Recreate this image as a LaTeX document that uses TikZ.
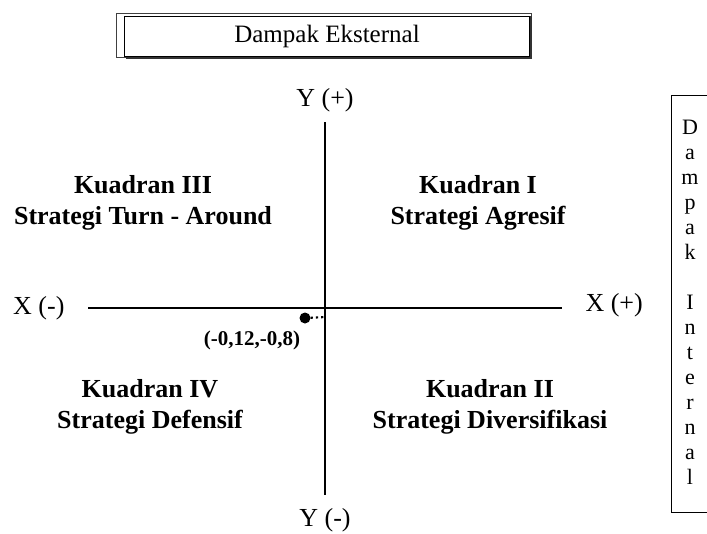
\documentclass[tikz,border=0pt]{standalone}
\usepackage{fontspec}
\setmainfont{Liberation Serif}
\usepackage{tikz}
\usetikzlibrary{positioning,calc}

\begin{document}
\begin{tikzpicture}[
  x=1pt, y=-1pt,
  font=\fontsize{20}{24}\selectfont,
  kuadran/.style={
    font=\fontsize{26}{31}\selectfont\bfseries,
    align=center
  },
  sumbu/.style={
    line width=1.6pt
  },
  labelsumbu/.style={
    font=\fontsize{26}{28}\selectfont
  }
]

  \useasboundingbox (0,0) rectangle (707,533);

  % Top box: external impact
  \draw[line width=1pt, draw=black!75] (116,13) rectangle (531,57);
  \draw[line width=2pt, draw=black!80] (531,16) -- (531,58) -- (126,58);
  \node[draw, line width=1pt, minimum width=405pt, minimum height=40pt, inner sep=0pt,
        font=\fontsize{25}{28}\selectfont] (eksternal) at (327,36) {Dampak Eksternal};

  % Right box: internal impact
  \begin{scope}
    \clip (0,0) rectangle (707,533);
    \draw[line width=1pt] (718,95) -- (671,95) -- (671,512) -- (718,512);
  \end{scope}
  \node[font=\fontsize{22}{25}\selectfont, align=center, anchor=north] (internal) at (690,117)
    {D\\a\\m\\p\\a\\k\\[25pt]I\\n\\t\\e\\r\\n\\a\\l};

  % Axes
  \coordinate (yatas) at (325,122);
  \coordinate (ybawah) at (325,495);
  \coordinate (xkiri) at (88,308);
  \coordinate (xkanan) at (562,308);
  \draw[sumbu] (yatas) -- (ybawah);
  \draw[sumbu] (xkiri) -- (xkanan);

  \node[labelsumbu, above=6pt of yatas] (ypos) {Y (+)};
  \node[labelsumbu, below=10pt of ybawah] (yneg) {Y (-)};
  \node[labelsumbu, left=20pt of xkiri] (xneg) {X (-)};
  \node[labelsumbu, right=20pt of xkanan, yshift=3pt] (xpos) {X (+)};

  % Quadrants
  \node[kuadran] (k3) at (143,203) {Kuadran III\\Strategi Turn - Around};
  \node[kuadran] (k1) at (478,203) {Kuadran I\\Strategi Agresif};
  \node[kuadran] (k4) at (150,407) {Kuadran IV\\Strategi Defensif};
  \node[kuadran] (k2) at (490,407) {Kuadran II\\Strategi Diversifikasi};

  % Position point
  \node[circle, fill, inner sep=0pt, minimum size=11pt] (titik) at (305,318) {};
  \coordinate (ujung) at (325,317);
  \draw[line width=2.2pt, dash pattern=on 2.2pt off 3pt] (titik) -- (ujung);
  \node[font=\fontsize{21}{24}\selectfont\bfseries] (posisi) at (252,340) {(-0,12,-0,8)};

\end{tikzpicture}
\end{document}
